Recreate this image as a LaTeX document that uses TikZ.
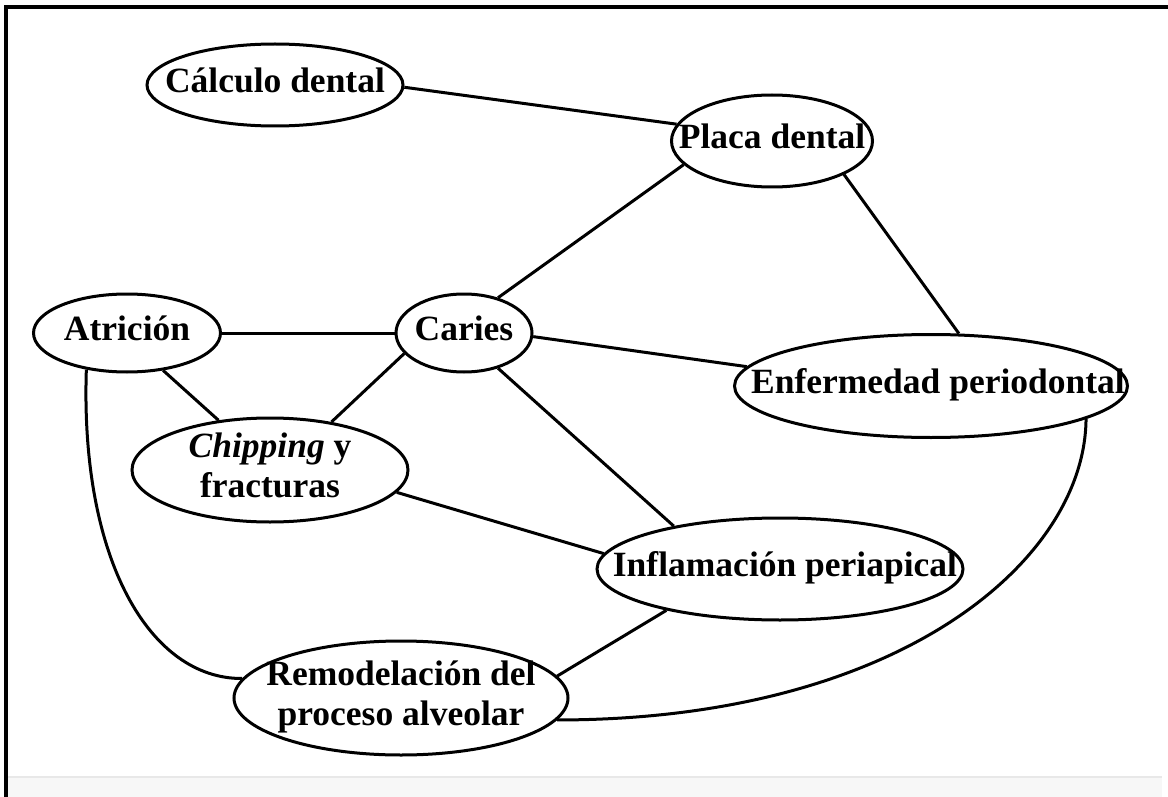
\documentclass[tikz,border=0pt]{standalone}
\usepackage{fontspec}
\setmainfont{Liberation Serif}
\usetikzlibrary{shapes.geometric}
\newcommand{\lbl}[1]{\smash{\makebox[0pt]{\raisebox{-0.17em}{\begin{tabular}{@{}c@{}}#1\end{tabular}}}}}
\begin{document}
\begin{tikzpicture}[x=1pt,y=-1pt,
  bub/.style={ellipse,draw=black,line width=3pt,inner sep=0pt,fill=white,
    font=\fontsize{35.5}{40}\selectfont\bfseries},
  link/.style={line width=3pt,black},
  framel/.style={line width=4pt,black}]
\useasboundingbox (0,0) rectangle (1168,797);
\fill[white] (0,0) rectangle (1168,797);
% frame
\fill[black!3] (8,777) rectangle (1162,797);
\draw[black!9,line width=1.5pt] (8,777) -- (1162,777);
\draw[framel] (6,797) -- (6,7.5) -- (1168,7.5);
% nodes
\node[bub,minimum width=256pt,minimum height=82pt] (calc) at (275,85) {\lbl{Cálculo dental}};
\node[bub,minimum width=201pt,minimum height=92pt] (placa) at (772,141) {\lbl{Placa dental}};
\node[bub,minimum width=187pt,minimum height=78pt] (atr) at (127,333) {\lbl{Atrición}};
\node[bub,minimum width=136pt,minimum height=78pt] (car) at (464,333) {\lbl{Caries}};
\node[bub,minimum width=393pt,minimum height=103pt] (enf) at (931,386) {\lbl{\hspace*{14pt}Enfermedad periodontal}};
\node[bub,minimum width=276pt,minimum height=104pt] (chip) at (270,470) {\lbl{\textit{Chipping} y\\fracturas}};
\node[bub,minimum width=366pt,minimum height=102pt] (infl) at (780,569) {\lbl{\hspace*{10pt}Inflamación periapical}};
\node[bub,minimum width=334pt,minimum height=114pt] (rem) at (401,698) {\lbl{Remodelación del\\proceso alveolar}};
% connectors
\draw[link] (calc.-1) -- (placa.170);
\draw[link] (placa.195) -- (car.46);
\draw[link] (placa.-25) -- (enf.62);
\draw[link] (atr.0) -- (car.180);
\draw[link] (car.-3) -- (enf.174);
\draw[link] (atr.-46) -- (chip.136);
\draw[link] (car.199) -- (chip.38);
\draw[link] (car.-46) -- (infl.158);
\draw[link] (chip.-10) -- (infl.175);
\draw[link] (infl.200) -- (rem.8);
\draw[link] (atr.222) .. controls (80,560) and (150,679) .. (rem.173);
\draw[link] (enf.-12) .. controls (1085,560) and (900,720) .. (rem.-8);
\end{tikzpicture}
\end{document}
